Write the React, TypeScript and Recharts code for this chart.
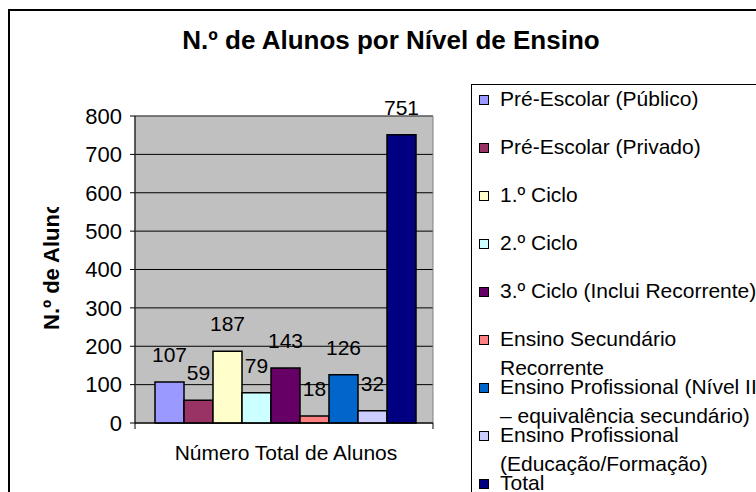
import React from "react";
import {
  BarChart,
  Bar,
  XAxis,
  YAxis,
  CartesianGrid,
  LabelList,
  Legend,
  ReferenceArea,
} from "recharts";

const category = "Número Total de Alunos";

const seriesNames = [
  "Pré-Escolar (Público)",
  "Pré-Escolar (Privado)",
  "1.º Ciclo",
  "2.º Ciclo",
  "3.º Ciclo (Inclui Recorrente)",
  "Ensino Secundário Recorrente",
  "Ensino Profissional (Nível III – equivalência secundário)",
  "Ensino Profissional (Educação/Formação)",
  "Total",
];

// how the legend wraps the long names
const legendLines = [
  ["Pré-Escolar (Público)"],
  ["Pré-Escolar (Privado)"],
  ["1.º Ciclo"],
  ["2.º Ciclo"],
  ["3.º Ciclo (Inclui Recorrente)"],
  ["Ensino Secundário", "Recorrente"],
  ["Ensino Profissional (Nível III", "– equivalência secundário)"],
  ["Ensino Profissional", "(Educação/Formação)"],
  ["Total"],
];

const seriesValues = [107, 59, 187, 79, 143, 18, 126, 32, 751];

const seriesColors = [
  "#9999FF",
  "#993366",
  "#FFFFCC",
  "#CCFFFF",
  "#660066",
  "#FF8080",
  "#0066CC",
  "#CCCCFF",
  "#000080",
];

const yTicks = [0, 100, 200, 300, 400, 500, 600, 700, 800];

const row: Record<string, string | number> = { name: category };
seriesValues.forEach((v, i) => {
  row["s" + i] = v;
});
const data = [row];

const FONT = '"Liberation Sans", Arial, sans-serif';

function EdgeTicks(props: any) {
  const { x, y, width, payload } = props;
  const w = width ?? (payload?.offset ?? 0) * 2;
  const left = x - w / 2;
  const right = x + w / 2;
  return (
    <g>
      <line x1={left} x2={left} y1={y} y2={y + 6} stroke="#000" strokeWidth={1} />
      <line x1={right} x2={right} y1={y} y2={y + 6} stroke="#000" strokeWidth={1} />
    </g>
  );
}

function YTitle(props: any) {
  const vb = props.viewBox || { x: 0, y: 0, width: 0, height: 0 };
  const tx = vb.x + 49;
  const ty = vb.y + vb.height - 93;
  return (
    <g clipPath="url(#ytitle-clip)">
      <defs>
        <clipPath id="ytitle-clip">
          <rect x={vb.x} y={vb.y + 91} width={vb.width} height={vb.height} />
        </clipPath>
      </defs>
      <text
        x={tx}
        y={ty}
        transform={`rotate(-90 ${tx} ${ty})`}
        fontSize={22}
        fontWeight="bold"
        fill="#000"
        textAnchor="start"
      >
        N.º de Alunos
      </text>
    </g>
  );
}

function XTitle(props: any) {
  const vb = props.viewBox || { x: 0, y: 0, width: 0, height: 0 };
  return (
    <text
      x={vb.x + vb.width / 2 + 2}
      y={vb.y + 37}
      fontSize={21}
      fill="#000"
      textAnchor="middle"
    >
      {category}
    </text>
  );
}

function LegendBox() {
  return (
    <svg width={330} height={440} style={{ display: "block" }}>
      <rect x={0.5} y={0.5} width={400} height={500} fill="#fff" stroke="#000" strokeWidth={1} />
      {legendLines.map((lines, i) => {
        const base = 22 + i * 48;
        return (
          <g key={i}>
            <rect
              x={8.5}
              y={base - 10.5}
              width={9}
              height={9}
              fill={seriesColors[i]}
              stroke="#000"
              strokeWidth={1}
            />
            {lines.map((t, j) => (
              <text key={j} x={29} y={base + j * 29} fontSize={21} fill="#000">
                {t}
              </text>
            ))}
          </g>
        );
      })}
    </svg>
  );
}

export default function App() {
  return (
    <div
      style={{
        position: "fixed",
        left: 0,
        top: 0,
        width: 756,
        height: 492,
        overflow: "hidden",
        background: "#fff",
        fontFamily: FONT,
      }}
    >
      <div
        style={{
          position: "absolute",
          left: 8,
          top: 9,
          width: 790,
          height: 510,
          border: "2px solid #000",
          background: "#fff",
        }}
      >
        <svg
          width={780}
          height={60}
          style={{ position: "absolute", left: 0, top: 0 }}
        >
          <text
            x={381}
            y={38}
            fontSize={26}
            fontWeight="bold"
            fill="#000"
            textAnchor="middle"
          >
            N.º de Alunos por Nível de Ensino
          </text>
        </svg>
        <BarChart
          width={780}
          height={500}
          data={data}
          margin={{ top: 105, right: 357, bottom: 48, left: 0 }}
          barGap={0}
          barCategoryGap={20}
        >
          <CartesianGrid
            vertical={false}
            stroke="#000"
            fill="#C0C0C0"
            fillOpacity={1}
          />
          <ReferenceArea y1={0} y2={800} stroke="#808080" strokeWidth={1} fill="none" fillOpacity={0} />
          <XAxis
            dataKey="name"
            height={40}
            axisLine={{ stroke: "#000", strokeWidth: 1 }}
            tickLine={false}
            tickSize={0}
            tickMargin={0}
            tick={<EdgeTicks />}
            label={<XTitle />}
          />
          <YAxis
            width={125}
            domain={[0, 800]}
            ticks={yTicks}
            interval={0}
            axisLine={{ stroke: "#000", strokeWidth: 1 }}
            tickLine={{ stroke: "#000" }}
            tickSize={5}
            tickMargin={8}
            tick={{ fontSize: 22, fill: "#000" }}
            label={<YTitle />}
          />
          <Legend
            layout="vertical"
            align="center"
            verticalAlign="middle"
            wrapperStyle={{ left: 461, top: 73, width: 330, height: 440 }}
            content={<LegendBox />}
          />
          {seriesNames.map((name, i) => (
            <Bar
              key={name}
              dataKey={"s" + i}
              name={name}
              fill={seriesColors[i]}
              stroke="#000"
              strokeWidth={1.5}
              isAnimationActive={false}
            >
              <LabelList
                dataKey={"s" + i}
                position="top"
                offset={20}
                fontSize={21}
                fill="#000"
              />
            </Bar>
          ))}
        </BarChart>
      </div>
    </div>
  );
}
